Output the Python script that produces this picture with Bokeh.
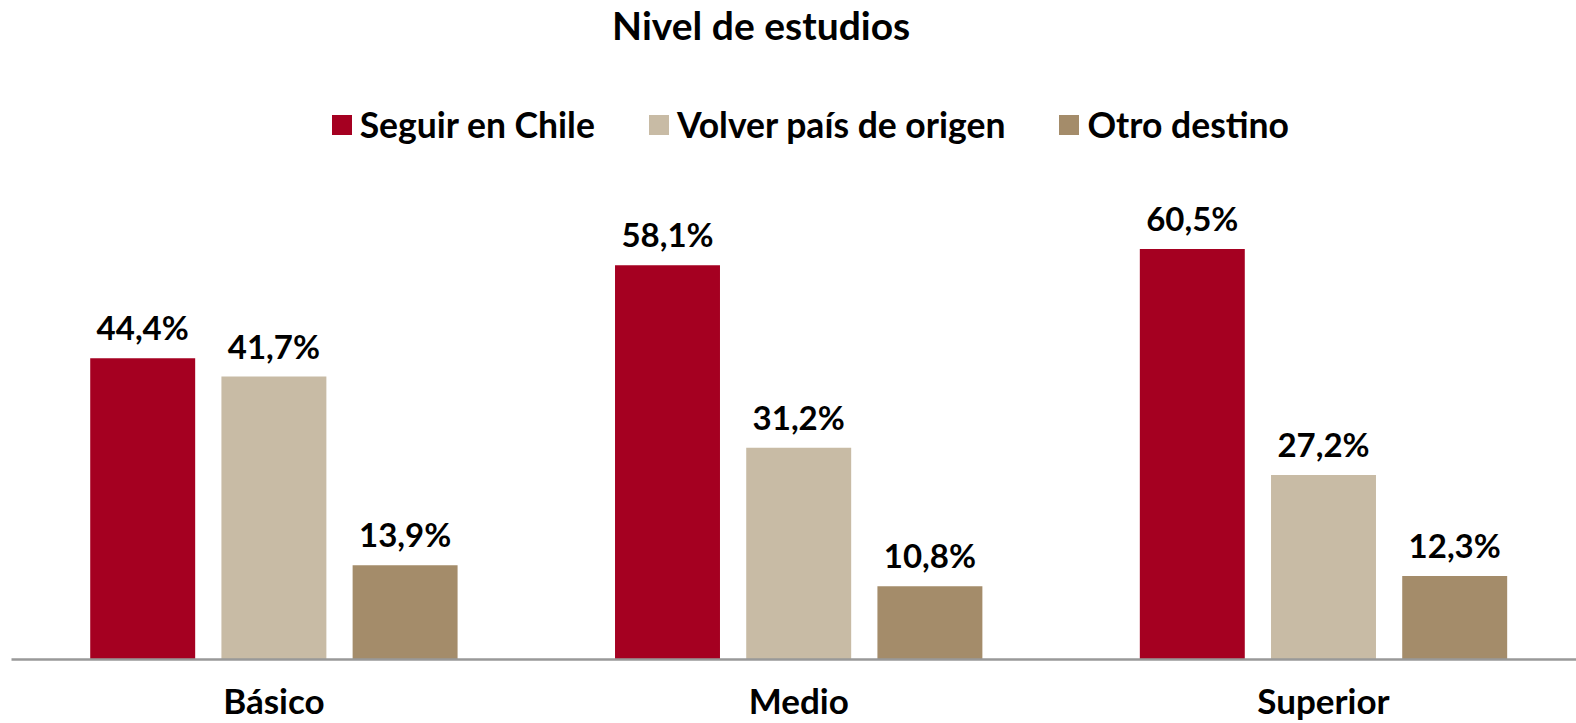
from bokeh.plotting import figure
from bokeh.models import ColumnDataSource, Range1d, FixedTicker, Legend, LegendItem, Label
from bokeh.core.properties import value
from bokeh.embed import file_html
from bokeh.resources import INLINE

categories = ["Básico", "Medio", "Superior"]
series_names = ["Seguir en Chile", "Volver país de origen", "Otro destino"]
seguir = [44.4, 58.1, 60.5]
volver = [41.7, 31.2, 27.2]
otro = [13.9, 10.8, 12.3]
colors = ["#A50021", "#C8BBA5", "#A48C6A"]

FONT = "Lato"
W, H = 1576, 723
FRAME_H = 658.4
SCALE = 6.78
y_end = FRAME_H / SCALE
X_END = (W - 11.6) / 524.6

p = figure(width=W, height=H, output_backend="svg", toolbar_location=None,
           x_range=Range1d(0, X_END), y_range=Range1d(0, y_end),
           min_border_left=11, min_border_right=0, min_border_top=0, min_border_bottom=0,
           title=None)
p.outline_line_color = None
p.grid.visible = False
p.yaxis.visible = False
p.background_fill_color = "white"
p.border_fill_color = "white"

centers = [i + 0.5 for i in range(len(categories))]
offsets = [-0.25, 0.0, 0.25]
renderers = []
for vals, off, col in zip([seguir, volver, otro], offsets, colors):
    xs = [c + off for c in centers]
    src = ColumnDataSource(dict(x=xs, top=vals, lab=[f"{v:.1f}%".replace(".", ",") for v in vals]))
    r = p.vbar(x="x", top="top", width=0.2, bottom=0, source=src, fill_color=col, line_color=None)
    renderers.append(r)
    p.text(x="x", y="top", text="lab", source=src, text_align="center", text_baseline="alphabetic",
           y_offset=-31, text_font=value(FONT), text_font_style="bold", text_font_size="33px",
           text_color="black")

ax = p.xaxis[0]
ax.ticker = FixedTicker(ticks=centers)
ax.major_label_overrides = {c: n for c, n in zip(centers, categories)}
ax.major_tick_line_color = None
ax.minor_tick_line_color = None
ax.major_tick_out = 0
ax.major_tick_in = 0
ax.major_label_standoff = 19
ax.major_label_text_font = FONT
ax.major_label_text_font_style = "bold"
ax.major_label_text_font_size = "35px"
ax.major_label_text_color = "black"
ax.axis_line_color = "#999999"
ax.axis_line_width = 2.5

title = Label(x=(761 - 11.6) / 524.6, y=y_end - 24 / SCALE, text="Nivel de estudios", text_align="center",
              text_baseline="middle", text_font=FONT, text_font_style="bold",
              text_font_size="39px", text_color="black")
p.add_layout(title)

legend = Legend(items=[LegendItem(label=n, renderers=[r]) for n, r in zip(series_names, renderers)],
                orientation="horizontal", location=(317.7, 513), padding=0, margin=0,
                spacing=51, glyph_width=25, glyph_height=25, label_standoff=6,
                label_text_font=FONT, label_text_font_style="bold", label_text_font_size="35.5px",
                label_text_color="black", border_line_color=None, background_fill_alpha=0)
p.add_layout(legend)

html = file_html(p, INLINE)
open("out.html", "w").write(html)
